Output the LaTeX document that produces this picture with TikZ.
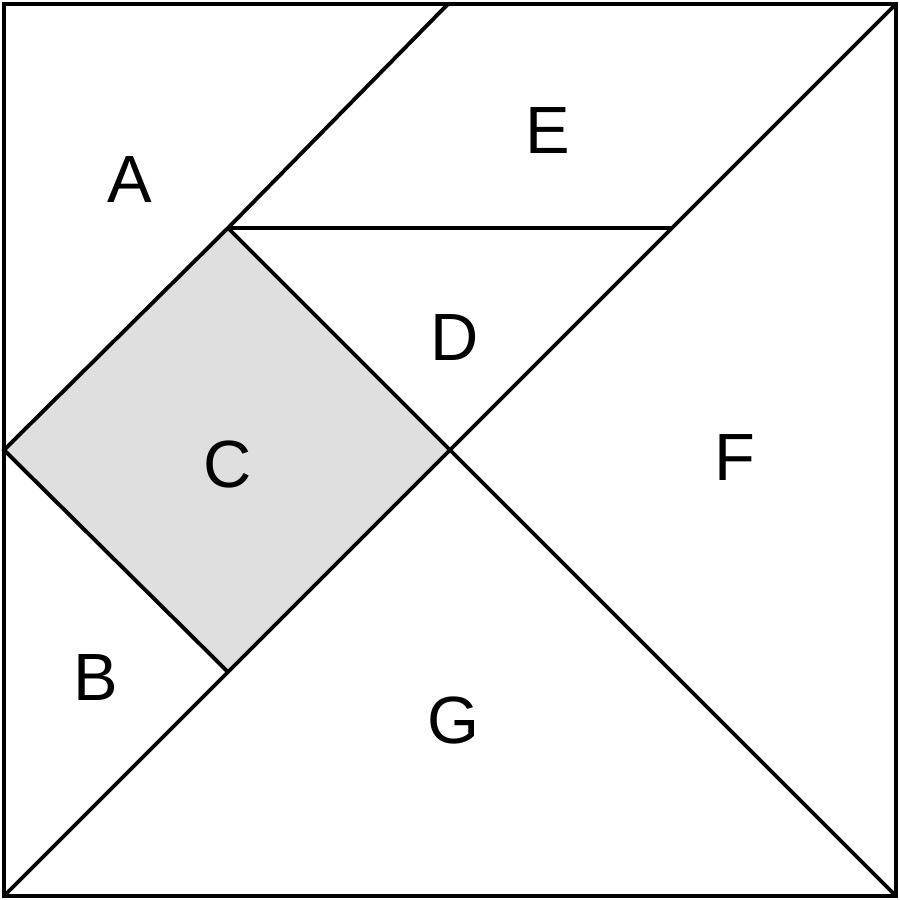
\documentclass[tikz,border=0pt]{standalone}
\usepackage{fontspec}
\setmainfont{Liberation Sans}
\begin{document}
\begin{tikzpicture}[x=0.01cm,y=-0.01cm,
  piece/.style={draw=black,line width=1.1pt,line join=miter},
  lbl/.style={font=\fontsize{19}{21}\selectfont,inner sep=0pt}]
\useasboundingbox (0,0) rectangle (900,900);
\coordinate (TL) at (4,4);
\coordinate (TR) at (896,4);
\coordinate (BR) at (896,896);
\coordinate (BL) at (4,896);
\coordinate (TM) at (448,4);
\coordinate (P1) at (228,228);
\coordinate (P2) at (672,228);
\coordinate (M) at (450,450);
\coordinate (LM) at (4,450);
\coordinate (P3) at (228,672);
\fill[gray!25] (P1) -- (M) -- (P3) -- (LM) -- cycle;
\draw[piece] (TL) rectangle (BR);
\draw[piece] (BL) -- (TR);
\draw[piece] (M) -- (BR);
\draw[piece] (TM) -- (P1) -- (P2);
\draw[piece] (P1) -- (M);
\draw[piece] (P1) -- (LM) -- (P3);
\node[lbl] (A) at (130,180) {A};
\node[lbl] (E) at (548,131) {E};
\node[lbl] (D) at (455,338) {D};
\node[lbl] (C) at (228,464) {C};
\node[lbl] (F) at (735,458) {F};
\node[lbl] (B) at (96,678) {B};
\node[lbl] (G) at (453,720) {G};
\end{tikzpicture}
\end{document}
